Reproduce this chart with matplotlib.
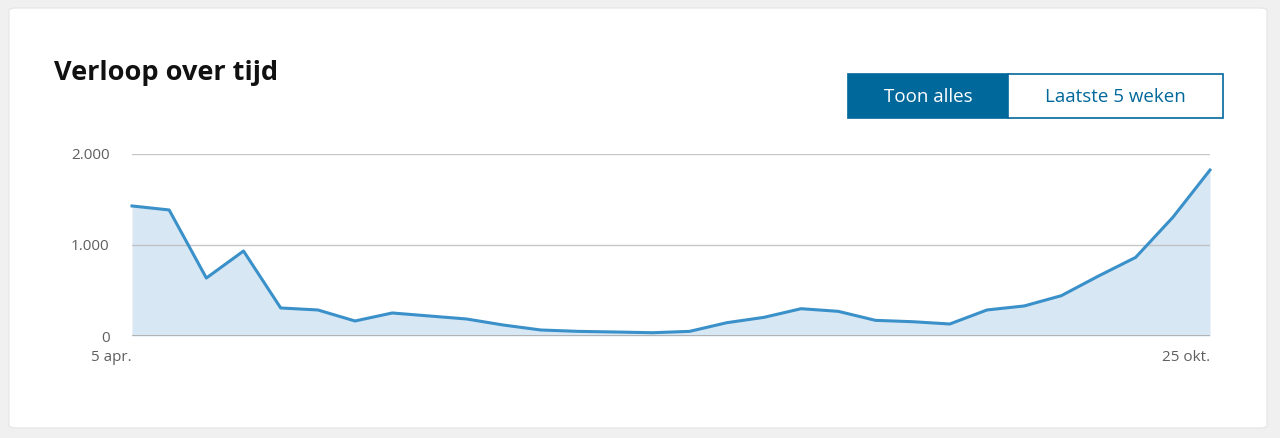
import numpy as np
import pandas as pd
import matplotlib
matplotlib.use("Agg")
import matplotlib.pyplot as plt
from matplotlib.patches import FancyBboxPatch, Rectangle

# weekly values, 5 apr -> 25 okt
weeks = pd.date_range("2020-04-05", "2020-10-25", freq="7D")
values = [1429, 1385, 637, 934, 308, 286, 165, 253, 220, 187,
          120, 66, 51, 44, 36, 51, 146, 205, 300, 271,
          172, 157, 132, 286, 330, 443, 659, 864, 1304, 1824]
y_ticks = [0, 1000, 2000]
y_labels = ["0", "1.000", "2.000"]
x_labels = ["5 apr.", "25 okt."]
title = "Verloop over tijd"
buttons = ["Toon alles", "Laatste 5 weken"]

W, H = 1280, 438
plt.rcParams['font.family'] = ['Open Sans', 'DejaVu Sans']
fig = plt.figure(figsize=(W / 100, H / 100), dpi=100)
fig.patch.set_facecolor('#f0f0f0')

# white card (behind everything)
card = FancyBboxPatch((9 / W, 1 - 428 / H), 1258 / W, 420 / H,
                      boxstyle="round,pad=0,rounding_size=0.006",
                      transform=fig.transFigure, facecolor='white',
                      edgecolor='#e4e4e4', linewidth=0.8, zorder=-10)
fig.patches.append(card)

fig.text(54 / W, 1 - 73 / H, title, fontsize=19.5, fontweight='bold',
         color='#111111', va='center', ha='left')

# toggle buttons
blue = '#01689b'
fig.patches.append(Rectangle((848 / W, 1 - 118 / H), 160 / W, 44 / H,
                             transform=fig.transFigure, facecolor=blue,
                             edgecolor=blue, linewidth=1.2))
fig.patches.append(Rectangle((1008 / W, 1 - 118 / H), 215 / W, 44 / H,
                             transform=fig.transFigure, facecolor='white',
                             edgecolor=blue, linewidth=1.2))
fig.text(928 / W, 1 - 97 / H, buttons[0], fontsize=13.5, color='white',
         ha='center', va='center')
fig.text(1115 / W, 1 - 97 / H, buttons[1], fontsize=13.5, color=blue,
         ha='center', va='center')

ax = fig.add_axes([132 / W, 1 - 336 / H, 1078 / W, 182 / H])
ax.set_zorder(5)
ax.set_facecolor('none')
ax.fill_between(weeks, values, 0, color='#d8e7f4', linewidth=0, zorder=1)
for yv in y_ticks[1:]:
    ax.axhline(yv, color='#b9b9b9', linewidth=1, alpha=0.8, zorder=2)
ax.axhline(0, color='#a8a8a8', linewidth=1.2, zorder=2)
ax.plot(weeks, values, color='#3a90c9', linewidth=2.2, zorder=3,
        solid_joinstyle='round', clip_on=False)

ax.set_xlim(weeks[0], weeks[-1])
ax.set_ylim(0, 2000)
for s in ax.spines.values():
    s.set_visible(False)

ax.set_yticks(y_ticks)
ax.set_yticklabels(y_labels)
ax.set_xticks([weeks[0], weeks[-1]])
ax.set_xticklabels(x_labels)
ax.tick_params(axis='both', length=0, labelsize=11, labelcolor='#5f5f5f')
ax.tick_params(axis='y', pad=16)
ax.tick_params(axis='x', pad=10)
for lbl in ax.get_xticklabels():
    lbl.set_horizontalalignment('right')

fig.savefig("out.png", dpi=100, facecolor=fig.get_facecolor())
